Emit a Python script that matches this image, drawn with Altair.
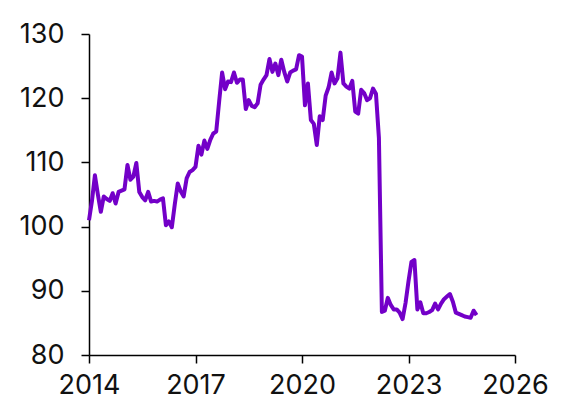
import altair as alt
import pandas as pd

start_year = 2014
values = [
    101.0, 104.0, 108.0, 105.0, 102.3, 104.7, 104.3, 104.0, 105.2, 103.6, 105.4, 105.6,
    105.8, 109.6, 107.3, 107.8, 109.9, 105.4, 104.6, 104.1, 105.4, 103.9, 104.0, 103.9,
    104.2, 104.4, 100.2, 100.8, 99.9, 103.5, 106.7, 105.5, 104.7, 107.5, 108.5, 108.8,
    109.3, 112.6, 111.2, 113.4, 112.1, 113.5, 114.5, 114.8, 119.5, 124.0, 121.4, 122.6,
    122.5, 124.0, 122.4, 122.9, 122.9, 118.3, 119.7, 118.8, 118.6, 119.2, 122.1, 122.9,
    123.6, 126.1, 124.1, 125.4, 123.6, 126.0, 124.1, 122.6, 124.0, 124.3, 124.5, 126.7,
    126.5, 118.9, 122.3, 116.6, 116.0, 112.7, 117.2, 116.6, 120.4, 121.7, 124.0, 122.3,
    123.1, 127.1, 122.3, 121.8, 121.5, 122.7, 117.9, 117.6, 121.3, 120.8, 119.7, 120.0,
    121.5, 120.7, 113.8, 86.7, 86.9, 88.9, 87.8, 87.1, 87.1, 86.6, 85.6, 88.1,
    91.5, 94.5, 94.8, 87.1, 88.2, 86.5, 86.5, 86.7, 87.0, 88.0, 87.1, 88.0,
    88.7, 89.1, 89.5, 88.3, 86.6, 86.4, 86.2, 86.0, 85.9, 85.8, 86.9, 86.2,
]
x_ticks = [2014, 2017, 2020, 2023, 2026]
y_ticks = [80, 90, 100, 110, 120, 130]

df = pd.DataFrame({
    "t": [start_year + i / 12 for i in range(len(values))],
    "v": values,
})

chart = alt.Chart(df).mark_line(color="#7300c8", strokeWidth=4, strokeJoin="round").encode(
    x=alt.X("t:Q", scale=alt.Scale(domain=[2014, 2026], nice=False, zero=False),
            axis=alt.Axis(values=x_ticks, format="d", title=None, grid=False,
                          labelFontSize=27, labelPadding=9, tickSize=8,
                          labelFlush=False, labelOverlap=False)),
    y=alt.Y("v:Q", scale=alt.Scale(domain=[80, 130], nice=False, zero=False),
            axis=alt.Axis(values=y_ticks, title=None, grid=False,
                          labelFontSize=27, labelPadding=17, tickSize=8)),
).properties(
    width=426, height=321,
    autosize=alt.AutoSizeParams(type="none"),
    padding={"left": 81, "top": 26, "right": 40, "bottom": 50},
).configure_axis(
    domainColor="black", tickColor="black", domainWidth=1.5, tickWidth=1.5,
    labelColor="#111111", labelFont="Inter", labelFontWeight="normal",
).configure_view(stroke=None)

chart.save("out.html", embed_options={"renderer": "svg", "actions": False})
